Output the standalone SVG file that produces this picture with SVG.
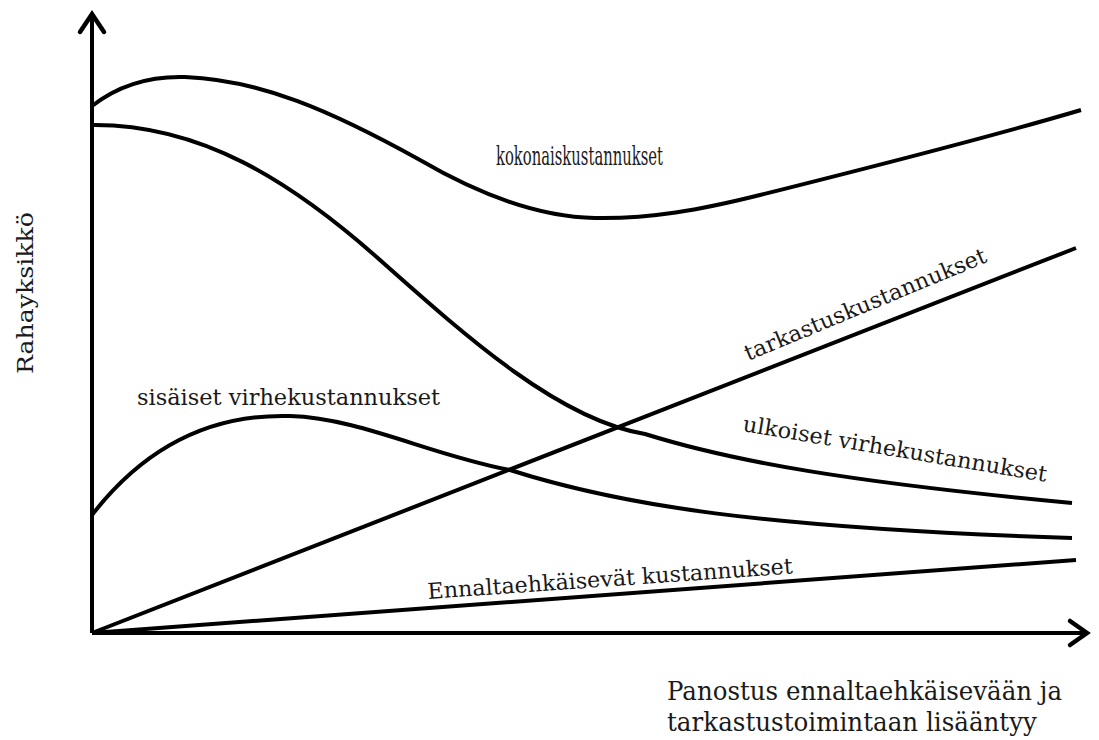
<svg xmlns="http://www.w3.org/2000/svg" width="1099" height="740" viewBox="0 0 1099 740">
  <style>
    .curve { fill: none; stroke: #000; stroke-width: 4; stroke-linecap: butt; stroke-linejoin: round; }
    .axis { fill: none; stroke: #000; stroke-width: 4; }
    .head { fill: none; stroke: #000; stroke-width: 4.5; stroke-linecap: round; stroke-linejoin: miter; }
    .lbl { font-family: "DejaVu Serif", "Liberation Serif", serif; font-size: 22px; fill: #1a1a1a; }
    .tall { font-size: 26px; }
    .axlbl { font-family: "DejaVu Serif", "Liberation Serif", serif; font-size: 26px; fill: #1a1a1a; }
  </style>
  <rect width="1099" height="740" fill="#fff"/>

  <!-- axes -->
  <g id="axes">
    <path class="axis" d="M92,633 V16"/>
    <path class="head" d="M80,32 L92,14 L104,32"/>
    <path class="axis" d="M92,633 H1084"/>
    <path class="head" d="M1070,621 L1087,633 L1070,645"/>
  </g>

  <!-- cost curves -->
  <g id="connectors">
    <path id="kokonais" class="curve" d="M92,106 C120,84 150,76 185,77 C260,80 330,110 420,160 C480,195 540,217 595,218 C650,219 700,210 760,195 C860,170 980,140 1081,110"/>
    <path id="ulkoiset" class="curve" d="M92,125 C200,124 290,180 380,260 C470,340 560,420 645,434 C735,462 850,482 1072,503"/>
    <path id="sisaiset" class="curve" d="M92,515 C150,440 220,414 290,416 C360,418 430,455 510,470 C620,505 760,528 1072,538"/>
    <path id="tarkastus" class="curve" d="M92,633 L1076,248"/>
    <path id="ennalta" class="curve" d="M92,633 L1076,560"/>
  </g>

  <!-- labels -->
  <g id="labels">
    <text class="lbl tall" x="496" y="165" textLength="167" lengthAdjust="spacingAndGlyphs">kokonaiskustannukset</text>
    <text class="lbl" x="137" y="405" textLength="303" lengthAdjust="spacingAndGlyphs">sisäiset virhekustannukset</text>
    <text class="lbl" transform="translate(748,361) rotate(-22.5)" textLength="260" lengthAdjust="spacingAndGlyphs">tarkastuskustannukset</text>
    <text class="lbl" transform="translate(742,431) rotate(9.5)" textLength="308" lengthAdjust="spacingAndGlyphs">ulkoiset virhekustannukset</text>
    <text class="lbl" transform="translate(428,599) rotate(-4)" textLength="366" lengthAdjust="spacingAndGlyphs">Ennaltaehkäisevät kustannukset</text>
    <text class="lbl" transform="translate(33,374) rotate(-90)" textLength="162" lengthAdjust="spacingAndGlyphs">Rahayksikkö</text>
    <text class="axlbl" x="667" y="700" textLength="395" lengthAdjust="spacingAndGlyphs">Panostus ennaltaehkäisevään ja</text>
    <text class="axlbl" x="667" y="731" textLength="370" lengthAdjust="spacingAndGlyphs">tarkastustoimintaan lisääntyy</text>
  </g>
</svg>
